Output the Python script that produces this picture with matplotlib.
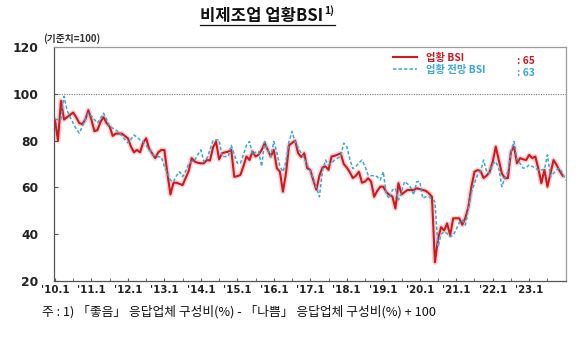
import matplotlib

matplotlib.use("Agg")
import matplotlib.pyplot as plt  # noqa: E402
from matplotlib.lines import Line2D  # noqa: E402

RED, BLUE, INK = "#d0191e", "#3aa6d8", "#222222"
KR = ["Noto Sans CJK KR", "DejaVu Sans"]

years = list(range(10, 24))
tick_labels = [f"'{y}.1" for y in years]

# 업황 BSI, monthly from 2010.1 to 2023.12
bsi = [
    89, 80, 97, 89, 90, 91, 92, 90, 87.5, 87, 89, 93,
    89, 84, 84.5, 88, 90, 87.5, 86, 82, 83, 83, 83, 82,
    81, 77.5, 75, 76, 75, 79, 81, 76.5, 74.5, 72.5, 75, 76,
    76, 66, 57, 62, 62, 61.5, 61, 64, 67, 72.5, 71, 70.5,
    70.3, 70.3, 71.7, 71.5, 77, 79.6, 72, 74.6, 75, 75.3, 76, 64.5,
    64.8, 65.3, 69, 73.2, 71.7, 75.3, 73.2, 74, 76, 78.9, 76, 73.2,
    76, 68.2, 66.7, 58.2, 66, 78, 79, 80, 74.6, 73, 74.6, 68.2,
    67.5, 63, 59, 65, 68.5, 69, 67.5, 73.2, 73.5, 74, 74.6, 70,
    68.5, 66.5, 64, 65, 66.7, 62, 62.5, 63.9, 62.5, 56, 58.5, 60.3,
    60.3, 58, 56.8, 56.1, 51, 61.8, 57, 58, 58.9, 58.9, 58.9, 59.6,
    59.3, 58.9, 58.5, 57.5, 56, 28, 38, 43, 41.6, 44.6, 39.6, 46.8,
    46.8, 46.8, 44, 47, 51.7, 60.3, 66.7, 67.4, 67, 64, 65, 66.7,
    71, 77.4, 71.7, 66, 63.9, 64, 75.3, 77.4, 70.3, 72.5, 72, 71.7,
    73.9, 72.5, 73.2, 68, 61.8, 67.5, 60.3, 66, 71.7, 69.6, 67, 65,
]

# 업황 전망 BSI, monthly from 2010.1 to 2024.1
outlook = [
    89, 89, 89.2, 98.9, 93, 90, 87.5, 85, 83.2, 86, 89, 91.7,
    90.5, 89, 87.5, 89.5, 91.7, 89, 86, 85.3, 84.6, 83.5, 82, 80.5,
    79, 80.5, 82.4, 81.5, 80.3, 79.6, 78, 76, 74.5, 73.2, 73.1, 73,
    69, 66, 63, 62.4, 65, 66.7, 64.6, 67, 70, 71, 71.7, 74,
    76, 71, 72.5, 76, 80, 80.3, 80.3, 73.2, 73.2, 73.2, 78, 74,
    70.3, 70.3, 74, 78, 79.6, 74, 75, 75.3, 69, 79.6, 76, 73.2,
    79.6, 75, 69, 66.7, 71, 79.6, 83.9, 79.4, 77, 74.6, 72.5, 69.6,
    67, 64, 60, 56, 67, 71.7, 69.6, 70.5, 71.7, 72.5, 73.2, 78.9,
    77.5, 72, 68, 69, 70.5, 71.7, 69, 65.3, 65, 65, 64.6, 63.2,
    66.7, 57, 55.3, 58.9, 59.6, 54.6, 58, 62.5, 61.5, 60, 56.8, 62.4,
    62.5, 55.3, 56, 56, 55, 53.9, 34.6, 40, 41, 40.3, 38.9, 39.6,
    42, 45, 46, 43.9, 51, 58, 61.8, 65.3, 67, 71.7, 66.7, 66,
    70, 71, 68.2, 60.3, 64, 66.7, 75.3, 79.6, 72, 70.3, 68.2, 68.5,
    69.6, 69, 68.2, 67.5, 67.5, 67.5, 73.9, 64.6, 66, 67.5, 68.2, 66,
    63,
]

fig = plt.figure(figsize=(5.84, 3.5), dpi=100)
ax = fig.add_axes([54 / 584, 1 - 281 / 350, 512 / 584, 234 / 350])

ax.axhline(100, color="#777777", lw=0.8, ls=(0, (1, 1.2)), zorder=1)
ax.plot(range(len(bsi)), bsi, color=RED, lw=3.8, alpha=0.18, zorder=2)
ax.plot(range(len(bsi)), bsi, color=RED, lw=1.5, zorder=3)
ax.plot(range(len(outlook)), outlook, color=BLUE, lw=1.1, ls=(0, (2.2, 1.4)), zorder=4)

ax.set_xlim(-0.3, 168.1)
ax.set_ylim(20, 120)
ax.set_yticks(range(20, 121, 20))
ax.set_xticks([12 * i for i in range(len(years))])
ax.set_xticklabels(tick_labels)
ax.set_xticks([12 * i + 6 for i in range(len(years))], minor=True)
ax.tick_params(axis="y", direction="in", length=3, pad=11, labelsize=8.8, colors="#555555",
               labelcolor=INK)
ax.tick_params(axis="x", which="both", direction="in", length=2.5, pad=3, labelsize=7.4,
               colors="#555555", labelcolor=INK)
for lab in ax.get_xticklabels() + ax.get_yticklabels():
    lab.set_fontweight("bold")
for side in ("top", "right"):
    ax.spines[side].set_color("#9a9a9a")
for side in ("left", "bottom"):
    ax.spines[side].set_color("#555555")
for sp in ax.spines.values():
    sp.set_linewidth(0.9)

# legend
handles = [
    Line2D([], [], color=RED, lw=1.5),
    Line2D([], [], color=BLUE, lw=1.1, ls=(0, (2.2, 1.4))),
]
leg = fig.legend(
    handles,
    ["업황 BSI", "업황 전망 BSI"],
    loc="upper left",
    bbox_to_anchor=(393 / 584, 1 - 53 / 350),
    frameon=False,
    borderpad=0,
    borderaxespad=0,
    handlelength=2.3,
    handletextpad=0.9,
    labelspacing=0.15,
    prop={"family": KR, "weight": "bold", "size": 7.4},
)
for txt, c in zip(leg.get_texts(), (RED, BLUE)):
    txt.set_color(c)
fig.text(517 / 584, 1 - 61 / 350, f": {bsi[-1]:.0f}", color=RED, fontsize=7.4,
         fontweight="bold", family=KR, va="center")
fig.text(517 / 584, 1 - 73 / 350, f": {outlook[-1]:.0f}", color=BLUE, fontsize=7.4,
         fontweight="bold", family=KR, va="center")

# title with underline and footnote mark
title = fig.text(200 / 584, 1 - 16 / 350, "비제조업 업황BSI", fontsize=12, fontweight="bold",
                 family=KR, ha="left", va="center", color="#111111")
fig.canvas.draw()
bb = title.get_window_extent().transformed(fig.transFigure.inverted())
fig.text(bb.x1 + 1 / 584, 1 - 11 / 350, "1)", fontsize=7.5, fontweight="bold", family=KR,
         ha="left", va="center", color="#111111")
fig.add_artist(Line2D([bb.x0, bb.x1 + 12 / 584], [1 - 25 / 350, 1 - 25 / 350],
                      color="#111111", lw=0.9))

fig.text(43 / 584, 1 - 39 / 350, "(기준치=100)", fontsize=7, fontweight="bold", family=KR,
         ha="left", va="center", color="#333333")

fig.text(42 / 584, 1 - 312 / 350,
         "주 : 1) 「좋음」 응답업체 구성비(%) - 「나쁨」 응답업체 구성비(%) + 100",
         fontsize=9.2, family=KR, ha="left", va="center", color="#111111")

fig.savefig("out.png", dpi=100)
